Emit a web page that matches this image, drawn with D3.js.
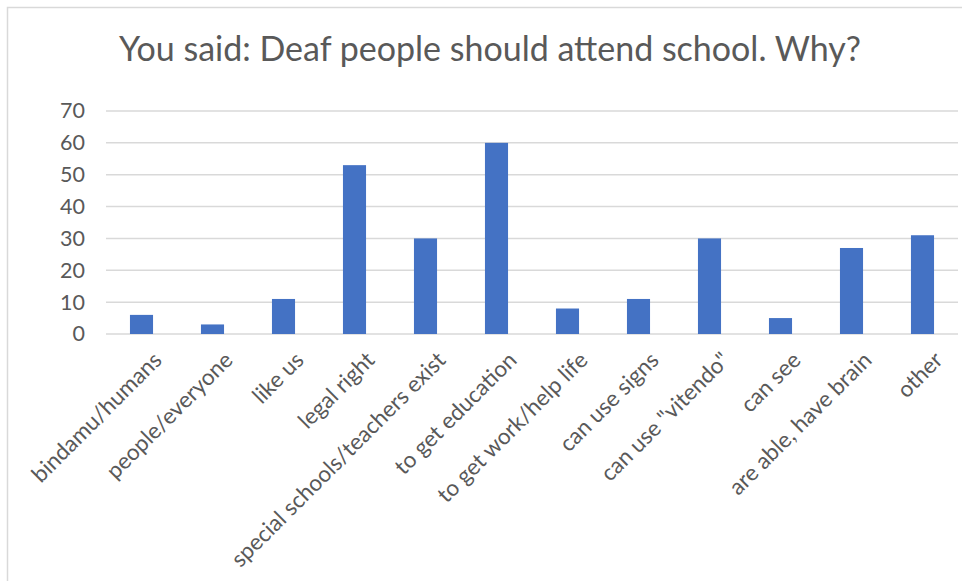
<!DOCTYPE html>
<html>
<head>
<meta charset="utf-8">
<script src="https://cdn.jsdelivr.net/npm/d3@7/dist/d3.min.js"></script>
<style>
  html, body { margin: 0; padding: 0; background: #fff; }
  svg { display: block; }
  text { font-family: Lato, "Open Sans", sans-serif; fill: #595959; }
</style>
</head>
<body>
<svg id="chart" width="962" height="581"></svg>
<script>
// Survey answers: why deaf people should attend school
const categories = [
  "bindamu/humans", "people/everyone", "like us", "legal right",
  "special schools/teachers exist", "to get education", "to get work/help life",
  "can use signs", "can use \"vitendo\"", "can see", "are able, have brain", "other"
];
const counts = [6, 3, 11, 53, 30, 60, 8, 11, 30, 5, 27, 31];
const yTicks = [0, 10, 20, 30, 40, 50, 60, 70];
const title = "You said: Deaf people should attend school. Why?";

const W = 962, H = 581;
const margin = { top: 111, right: 4, bottom: 247, left: 106 };
const innerW = W - margin.left - margin.right;
const innerH = H - margin.top - margin.bottom;

const svg = d3.select("#chart");

// Chart frame
svg.append("rect")
  .attr("x", 7.5).attr("y", 7.5)
  .attr("width", W + 20).attr("height", H + 20)
  .attr("fill", "none").attr("stroke", "#d9d9d9").attr("stroke-width", 1.5);

const x = d3.scaleBand().domain(categories).range([0, innerW]).paddingInner(0.675).paddingOuter(0.3375);
const y = d3.scaleLinear().domain([0, 70]).range([innerH, 0]);

const g = svg.append("g").attr("transform", `translate(${margin.left},${margin.top})`);

// Horizontal gridlines
g.append("g").selectAll("line").data(yTicks).join("line")
  .attr("x1", 0).attr("x2", innerW)
  .attr("y1", d => y(d)).attr("y2", d => y(d))
  .attr("stroke", "#d9d9d9").attr("stroke-width", 1.5);

// Y axis labels
const yAxis = g.append("g")
  .call(d3.axisLeft(y).tickValues(yTicks).tickSize(0).tickPadding(21));
yAxis.select(".domain").remove();
yAxis.selectAll("text")
  .attr("font-size", 21.5)
  .style("font-family", "Lato, 'Open Sans', sans-serif")
  .attr("fill", "#595959");

// Bars
g.append("g").selectAll("rect").data(counts).join("rect")
  .attr("x", (d, i) => x(categories[i]))
  .attr("y", d => y(d))
  .attr("width", x.bandwidth())
  .attr("height", d => innerH - y(d))
  .attr("fill", "#4472c4");

// Category labels, rotated
const xAxis = g.append("g").attr("transform", `translate(0,${innerH})`)
  .call(d3.axisBottom(x).tickSize(0).tickPadding(0));
xAxis.select(".domain").remove();
xAxis.selectAll("text")
  .attr("font-size", 22.5)
  .style("font-family", "Lato, 'Open Sans', sans-serif")
  .attr("fill", "#595959")
  .attr("text-anchor", "end")
  .attr("y", null)
  .attr("transform", "translate(16,22) rotate(-45)")
  .attr("dy", "0.35em");

// Title
svg.append("text")
  .attr("x", 490).attr("y", 61)
  .attr("text-anchor", "middle")
  .attr("font-size", 34)
  .text(title);
</script>
</body>
</html>
